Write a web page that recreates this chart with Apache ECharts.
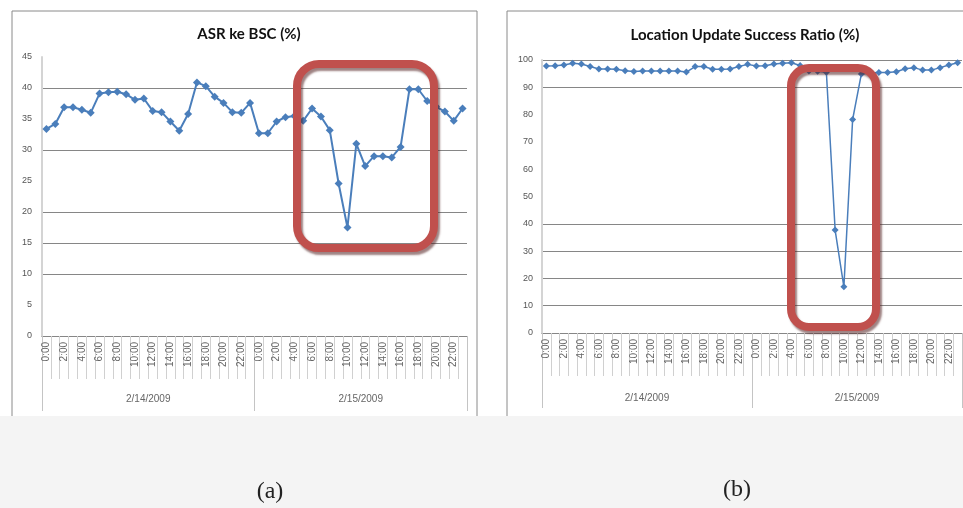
<!DOCTYPE html>
<html>
<head>
<meta charset="utf-8">
<script src="https://cdn.jsdelivr.net/npm/echarts@6/dist/echarts.min.js"></script>
<style>
  html, body { margin: 0; padding: 0; background: #fff; }
  #chart { width: 963px; height: 508px; }
</style>
</head>
<body>
<div id="chart"></div>
<script>
// hour labels for one day, repeated for two days
const hours = ['0:00', '1:00', '2:00', '3:00', '4:00', '5:00', '6:00', '7:00', '8:00', '9:00', '10:00', '11:00',
  '12:00', '13:00', '14:00', '15:00', '16:00', '17:00', '18:00', '19:00', '20:00', '21:00', '22:00', '23:00'];
const categories = hours.concat(hours);
const days = ['2/14/2009', '2/15/2009'];

// (a) ASR ke BSC (%)
const asrData = [33.4, 34.2, 36.9, 36.9, 36.5, 36.0, 39.1, 39.3, 39.4, 39.0,
  38.1, 38.3, 36.3, 36.1, 34.6, 33.1, 35.8, 40.9, 40.3, 38.6,
  37.6, 36.1, 36.0, 37.6, 32.7, 32.7, 34.6, 35.3, 35.5, 34.7,
  36.7, 35.4, 33.2, 24.6, 17.5, 31.0, 27.4, 29.0, 29.0, 28.8,
  30.5, 39.8, 39.8, 37.9, 37.0, 36.2, 34.7, 36.7];

// (b) Location Update Success Ratio (%)
const luData = [97.8, 97.9, 98.2, 98.8, 98.5, 97.6, 96.7, 96.7, 96.6, 96.1,
  95.8, 96.0, 96.0, 96.0, 96.0, 96.0, 95.6, 97.6, 97.6, 96.6,
  96.6, 96.7, 97.6, 98.4, 97.8, 97.9, 98.5, 98.8, 99.0, 98.0,
  96.0, 95.9, 95.5, 37.7, 16.9, 78.2, 94.9, 95.2, 95.4, 95.4,
  95.7, 96.8, 97.2, 96.3, 96.3, 97.2, 98.2, 99.0];

const GRID = '#868686';
const NONE = 'rgba(0,0,0,0)';
const LIGHT = '#d0d0d0';
const BLUE = '#4a7ebb';
const RED = '#c0504d';

const chart = echarts.init(document.getElementById('chart'));

function hourAxis(gridIndex) {
  return {
    type: 'category', gridIndex: gridIndex, data: categories, position: 'bottom',
    axisLine: { show: true, lineStyle: { color: GRID, width: 1 } },
    axisTick: { show: true, interval: 0, length: 43, lineStyle: { color: LIGHT, width: 1 } },
    axisLabel: { interval: 1, rotate: 90, margin: 6, fontSize: 10, color: '#666', fontFamily: 'Liberation Sans' },
    splitLine: { show: false }
  };
}
function dayAxis(gridIndex, margin) {
  return {
    type: 'category', gridIndex: gridIndex, data: days, position: 'bottom',
    axisLine: { show: false },
    axisTick: { show: true, interval: 0, length: 75, lineStyle: { color: '#c4c4c4', width: 1 } },
    axisLabel: { margin: margin, fontSize: 10, color: '#666', fontFamily: 'Liberation Sans' },
    splitLine: { show: false }
  };
}

const option = {
  backgroundColor: '#fff',
  animation: false,
  title: [
    { text: 'ASR ke BSC (%)', left: 244, top: 22, textAlign: 'center',
      textStyle: { fontFamily: 'Lato', fontWeight: 'bold', fontSize: 15, color: '#111' } },
    { text: 'Location Update Success Ratio (%)', left: 740, top: 23, textAlign: 'center',
      textStyle: { fontFamily: 'Lato', fontWeight: 'bold', fontSize: 15, color: '#111' } }
  ],
  grid: [
    { left: 42, top: 57, width: 425, height: 279 },
    { left: 542, top: 60, width: 420, height: 273 }
  ],
  xAxis: [hourAxis(0), dayAxis(0, 58), hourAxis(1), dayAxis(1, 60)],
  yAxis: [
    { type: 'value', gridIndex: 0, min: 0, max: 45, interval: 5,
      axisLine: { show: true, lineStyle: { color: '#d4d4d4', width: 2 } },
      axisTick: { show: false },
      axisLabel: { margin: 10, fontSize: 9, color: '#555', fontFamily: 'Liberation Sans' },
      splitLine: { show: true, lineStyle: { color: [GRID, NONE, GRID, GRID, GRID, NONE, GRID, NONE, GRID, NONE] } } },
    { type: 'value', gridIndex: 1, min: 0, max: 100, interval: 10,
      axisLine: { show: true, lineStyle: { color: '#d4d4d4', width: 2 } },
      axisTick: { show: false },
      axisLabel: { margin: 9, fontSize: 9, color: '#555', fontFamily: 'Liberation Sans' },
      splitLine: { show: true, lineStyle: { color: [GRID, GRID, GRID, GRID, GRID, NONE, NONE, NONE, NONE, GRID, GRID] } } }
  ],
  series: [
    { type: 'line', name: 'ASR', xAxisIndex: 0, yAxisIndex: 0, data: asrData,
      symbol: 'diamond', symbolSize: 8, showAllSymbol: true,
      lineStyle: { color: BLUE, width: 2 }, itemStyle: { color: BLUE } },
    { type: 'line', name: 'LU', xAxisIndex: 2, yAxisIndex: 1, data: luData,
      symbol: 'diamond', symbolSize: 7, showAllSymbol: true,
      lineStyle: { color: BLUE, width: 1.5 }, itemStyle: { color: BLUE } }
  ],
  graphic: [
    // light watermark band at the bottom
    { type: 'rect', z: -10, silent: true, shape: { x: 0, y: 416, width: 963, height: 92 }, style: { fill: '#f4f4f4' } },
    // chart frames
    { type: 'polyline', silent: true, shape: { points: [[12, 416], [12, 11], [477, 11], [477, 416]] },
      style: { stroke: '#8a8a8a', lineWidth: 1, fill: null } },
    { type: 'polyline', silent: true, shape: { points: [[507, 416], [507, 11], [963, 11]] },
      style: { stroke: '#8a8a8a', lineWidth: 1, fill: null } },
    // red highlight boxes
    { type: 'rect', z: 100, silent: true, shape: { x: 297, y: 64, width: 137, height: 184, r: 22 },
      style: { stroke: RED, lineWidth: 8, fill: null, shadowColor: 'rgba(80,30,30,0.55)', shadowBlur: 2, shadowOffsetX: 2, shadowOffsetY: 3 } },
    { type: 'rect', z: 100, silent: true, shape: { x: 791, y: 68, width: 85, height: 259, r: 18 },
      style: { stroke: RED, lineWidth: 8, fill: null, shadowColor: 'rgba(80,30,30,0.55)', shadowBlur: 2, shadowOffsetX: 2, shadowOffsetY: 3 } },
    // captions
    { type: 'text', silent: true, x: 270, y: 492,
      style: { text: '(a)', font: '24px "Liberation Serif"', fill: '#222', textAlign: 'center', textVerticalAlign: 'middle' } },
    { type: 'text', silent: true, x: 737, y: 490,
      style: { text: '(b)', font: '24px "Liberation Serif"', fill: '#222', textAlign: 'center', textVerticalAlign: 'middle' } }
  ]
};

chart.setOption(option);
</script>
</body>
</html>
